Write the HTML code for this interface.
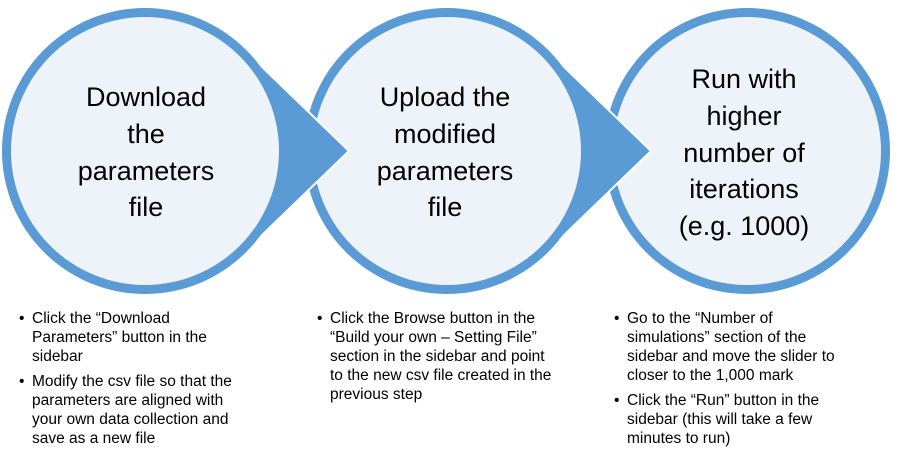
<!DOCTYPE html>
<html><head><meta charset="utf-8"><style>
html,body{margin:0;padding:0;background:#fff;}
svg{display:block;}
.t{font-family:"Liberation Sans",sans-serif;font-size:27px;fill:#000;text-anchor:middle;}
.b{font-family:"Liberation Sans",sans-serif;font-size:15.5px;fill:#000;}
</style></head><body>
<svg width="897" height="464" viewBox="0 0 897 464" xmlns="http://www.w3.org/2000/svg">
<circle cx="747" cy="151" r="143" fill="#5b9bd5"/>
<circle cx="747" cy="151" r="134" fill="#eef3fa"/>
<polygon points="532,36 651,151 532,266" fill="#5b9bd5" stroke="#fff" stroke-width="2"/>
<circle cx="447" cy="151" r="143" fill="#5b9bd5"/>
<circle cx="447" cy="151" r="134" fill="#eef3fa"/>
<polygon points="230,36 349,151 230,266" fill="#5b9bd5" stroke="#fff" stroke-width="2"/>
<circle cx="145" cy="151" r="143" fill="#5b9bd5"/>
<circle cx="145" cy="151" r="134" fill="#eef3fa"/>
<text class="t" x="146" y="106">Download</text>
<text class="t" x="146" y="143">the</text>
<text class="t" x="146" y="180">parameters</text>
<text class="t" x="146" y="216">file</text>
<text class="t" x="445" y="106">Upload the</text>
<text class="t" x="445" y="143">modified</text>
<text class="t" x="445" y="180">parameters</text>
<text class="t" x="445" y="216">file</text>
<text class="t" x="744" y="88">Run with</text>
<text class="t" x="744" y="125">higher</text>
<text class="t" x="744" y="162">number of</text>
<text class="t" x="744" y="198">iterations</text>
<text class="t" x="744" y="235">(e.g. 1000)</text>
<g class="b">
<text x="19" y="323">•</text>
<text x="32" y="323">Click the “Download</text>
<text x="32" y="342">Parameters” button in the</text>
<text x="32" y="361">sidebar</text>
<text x="19" y="386">•</text>
<text x="32" y="386">Modify the csv file so that the</text>
<text x="32" y="405">parameters are aligned with</text>
<text x="32" y="424">your own data collection and</text>
<text x="32" y="443">save as a new file</text>
<text x="317" y="323">•</text>
<text x="330" y="323">Click the Browse button in the</text>
<text x="330" y="342">“Build your own – Setting File”</text>
<text x="330" y="361">section in the sidebar and point</text>
<text x="330" y="380">to the new csv file created in the</text>
<text x="330" y="399">previous step</text>
<text x="614" y="323">•</text>
<text x="627" y="323">Go to the “Number of</text>
<text x="627" y="342">simulations” section of the</text>
<text x="627" y="361">sidebar and move the slider to</text>
<text x="627" y="380">closer to the 1,000 mark</text>
<text x="614" y="405">•</text>
<text x="627" y="405">Click the “Run” button in the</text>
<text x="627" y="424">sidebar (this will take a few</text>
<text x="627" y="443">minutes to run)</text>
</g>
</svg>
</body></html>
